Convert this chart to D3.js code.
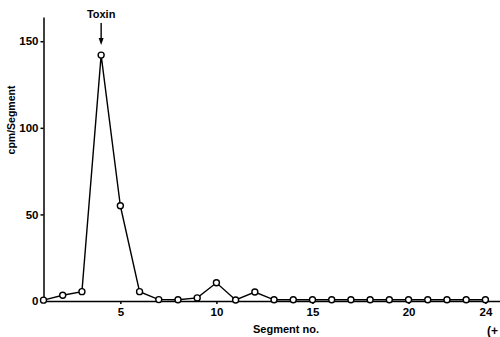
<!DOCTYPE html>
<html lang="en">
<head>
  <meta charset="UTF-8">
  <title>cpm per segment</title>
  <style>
    body { margin: 0; background: #fff; }
    svg { display: block; font-family: "Liberation Sans", Arial, sans-serif; font-weight: bold; }
    .axis path, .axis line { stroke: #000; stroke-width: 1.5px; }
    .axis text { font-size: 11.5px; font-weight: bold; fill: #000; }
    .line { fill: none; stroke: #000; stroke-width: 1.4px; }
    .pt { fill: #fff; stroke: #000; stroke-width: 1.4px; }
  </style>
</head>
<body>
  <svg width="500" height="337"></svg>
  <script src="https://d3js.org/d3.v7.min.js"></script>
  <script>
    // data
    const segments = [1, 2, 3, 4, 5, 6, 7, 8, 9, 10, 11, 12, 13, 14, 15, 16, 17, 18, 19, 20, 21, 22, 23, 24];
    const cpm = [0.5, 3.3, 5.4, 142, 55, 5.4, 0.8, 0.7, 1.8, 10.5, 0.6, 5.2, 0.7, 0.7, 0.7, 0.7, 0.7, 0.7, 0.7, 0.7, 0.7, 0.7, 0.7, 0.7];
    const xTicks = [5, 10, 15, 20, 24];
    const yTicks = [0, 50, 100, 150];

    const svg = d3.select("svg");
    const x = d3.scaleLinear().domain([1, 24.76]).range([43.5, 500]);
    const y = d3.scaleLinear().domain([0, 164]).range([301, 17]);

    // axes
    svg.append("g").attr("class", "axis")
      .attr("transform", `translate(${x(1)},0)`)
      .call(d3.axisLeft(y).tickValues(yTicks).tickSize(3).tickSizeOuter(0).tickPadding(2));

    svg.append("g").attr("class", "axis")
      .attr("transform", `translate(0,${y(0)})`)
      .call(d3.axisBottom(x).tickValues(xTicks).tickSize(3).tickSizeOuter(0).tickPadding(4));

    // series
    const pts = segments.map((s, i) => [s, cpm[i]]);
    svg.append("path").attr("class", "line").datum(pts)
      .attr("d", d3.line().x(d => x(d[0])).y(d => y(d[1])));
    svg.selectAll("circle.pt").data(pts).enter().append("circle")
      .attr("class", "pt").attr("r", 3)
      .attr("cx", d => x(d[0])).attr("cy", d => y(d[1]));

    // labels
    svg.append("text").attr("transform", `translate(11,120) rotate(-90)`)
      .attr("text-anchor", "middle").attr("dy", "0.35em")
      .style("font-size", "10.5px").text("cpm/Segment");
    svg.append("text").attr("x", 286).attr("y", 333)
      .attr("text-anchor", "middle").style("font-size", "11px").text("Segment no.");
    svg.append("text").attr("x", 487).attr("y", 335)
      .style("font-size", "12px").text("(+");

    // toxin marker
    const tx = x(4);
    svg.append("text").attr("x", tx).attr("y", 18)
      .attr("text-anchor", "middle").style("font-size", "11px").text("Toxin");
    svg.append("line").attr("x1", tx).attr("x2", tx).attr("y1", 23).attr("y2", 40)
      .attr("stroke", "#000").attr("stroke-width", 1.4);
    svg.append("path").attr("d", `M${tx - 2.5},38 L${tx + 2.5},38 L${tx},45 Z`).attr("fill", "#000");
  </script>
</body>
</html>
